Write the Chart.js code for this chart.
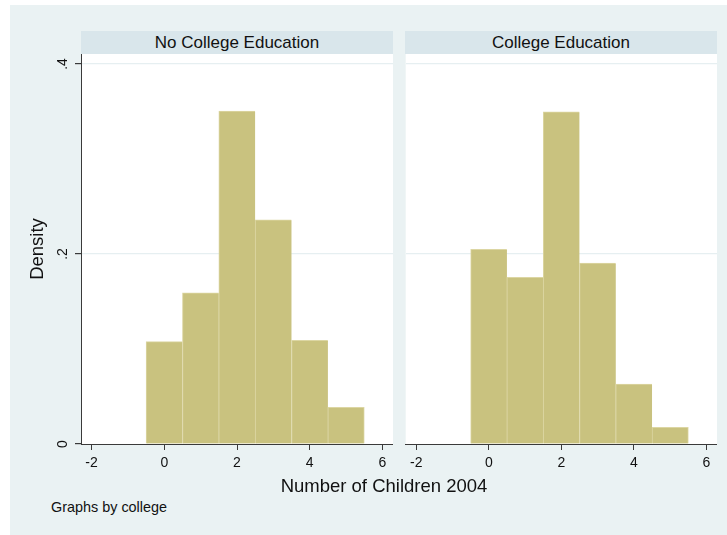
<!DOCTYPE html>
<html>
<head>
<meta charset="utf-8">
<script src="https://cdn.jsdelivr.net/npm/chart.js@4/dist/chart.umd.min.js"></script>
<style>
  html, body { margin: 0; padding: 0; background: #ffffff; }
  body { width: 727px; height: 535px; position: relative; overflow: hidden;
         font-family: "Liberation Sans", Arial, sans-serif; color: #111; }
  #region { position: absolute; left: 10px; top: 5px; right: 0; bottom: 0; background: #eaf2f3; }
  canvas { position: absolute; top: 0; }
  .strip { position: absolute; top: 31px; height: 23px; width: 312px; line-height: 23px;
           background: #d9e6eb; text-align: center; font-size: 17px; white-space: nowrap; }
  .note { position: absolute; white-space: nowrap; line-height: 1; }
</style>
</head>
<body>
<div id="region"></div>
<div class="strip" id="stripL" style="left:81px"></div>
<div class="strip" id="stripR" style="left:405px"></div>
<canvas id="left" width="393" height="480" style="left:0"></canvas>
<canvas id="right" width="312" height="480" style="left:405px"></canvas>
<div class="note" id="xtitle" style="left:84px; width:600px; top:477px; text-align:center; font-size:18.5px"></div>
<div class="note" id="byNote" style="left:51px; top:500px; font-size:14.4px"></div>
<script>
// Number of children (histogram bins, width 1, centred on each count)
const childCounts = [0, 1, 2, 3, 4, 5];
// Density per bin, by college group
const densityNoCollege = [0.1077, 0.159, 0.3505, 0.236, 0.109, 0.0386];
const densityCollege   = [0.205, 0.1755, 0.3495, 0.1905, 0.0632, 0.0176];
const groupNames = ['No College Education', 'College Education'];
// Axis ticks
const xTickValues = [-2, 0, 2, 4, 6];
const xTickLabels = ['-2', '0', '2', '4', '6'];
const yTickValues = [0, 0.2, 0.4];
const yTickLabels = ['0', '.2', '.4'];
const xTitle = 'Number of Children 2004';
const yTitle = 'Density';
const byNote = 'Graphs by college';

document.getElementById('stripL').textContent = groupNames[0];
document.getElementById('stripR').textContent = groupNames[1];
document.getElementById('xtitle').textContent = xTitle;
document.getElementById('byNote').textContent = byNote;

const FONT = '"Liberation Sans", Arial, sans-serif';
const INK = '#111111';
const AXIS = '#3a3a3a';
const BAR_FILL = 'rgb(201,194,127)';
const BAR_EDGE = 'rgb(220,214,163)';
const GRID = '#e6eff1';

const plotBg = {
  id: 'plotBg',
  beforeDraw(chart) {
    const { ctx, chartArea: a } = chart;
    ctx.save();
    ctx.fillStyle = '#ffffff';
    ctx.fillRect(a.left, a.top, a.right - a.left, a.bottom - a.top);
    ctx.restore();
  }
};

function makePanel(canvasId, values, withYAxis) {
  const last = values.length - 1;
  return new Chart(document.getElementById(canvasId), {
    type: 'bar',
    data: {
      datasets: [{
        data: childCounts.map((c, i) => ({ x: c, y: values[i] })),
        backgroundColor: BAR_FILL,
        borderColor: BAR_EDGE,
        borderWidth: (ctx) => ({ top: 1, left: 1, bottom: 0, right: ctx.dataIndex === last ? 1 : 0 }),
        borderSkipped: false,
        barPercentage: 1,
        categoryPercentage: 1
      }]
    },
    options: {
      responsive: false,
      animation: false,
      layout: { padding: { top: 54, left: 0, right: 0, bottom: 0 } },
      plugins: { legend: { display: false }, tooltip: { enabled: false }, title: { display: false } },
      scales: {
        x: {
          type: 'linear',
          min: -2.29,
          max: 6.29,
          offset: false,
          afterBuildTicks: (s) => { s.ticks = xTickValues.map(v => ({ value: v })); },
          afterFit: (s) => { s.height = 36; },
          ticks: {
            autoSkip: false,
            maxRotation: 0,
            padding: 5,
            color: INK,
            font: { family: FONT, size: 14 },
            callback: (v) => xTickLabels[xTickValues.indexOf(v)]
          },
          grid: { offset: false, drawOnChartArea: false, drawTicks: true, tickLength: 6, tickColor: AXIS, tickWidth: 1 },
          border: { display: true, color: AXIS, width: 1 }
        },
        y: {
          type: 'linear',
          min: 0,
          max: 0.4105,
          afterBuildTicks: (s) => { s.ticks = yTickValues.map(v => ({ value: v })); },
          afterFit: (s) => { s.width = withYAxis ? 81 : 0; },
          ticks: {
            display: withYAxis,
            minRotation: 90,
            maxRotation: 90,
            crossAlign: 'center',
            padding: 6,
            color: INK,
            font: { family: FONT, size: 14 },
            callback: (v) => yTickLabels[yTickValues.indexOf(v)]
          },
          grid: {
            offset: false,
            drawOnChartArea: true,
            drawTicks: withYAxis,
            tickLength: 6,
            tickColor: AXIS,
            color: (c) => (c.tick && c.tick.value === 0 ? 'rgba(0,0,0,0)' : GRID),
            lineWidth: 1.2
          },
          border: { display: withYAxis, color: AXIS, width: 1 },
          title: {
            display: withYAxis,
            text: yTitle,
            color: INK,
            font: { family: FONT, size: 18.5 },
            padding: { top: 27, bottom: 0 }
          }
        }
      }
    },
    plugins: [plotBg]
  });
}

makePanel('left', densityNoCollege, true);
makePanel('right', densityCollege, false);
</script>
</body>
</html>
